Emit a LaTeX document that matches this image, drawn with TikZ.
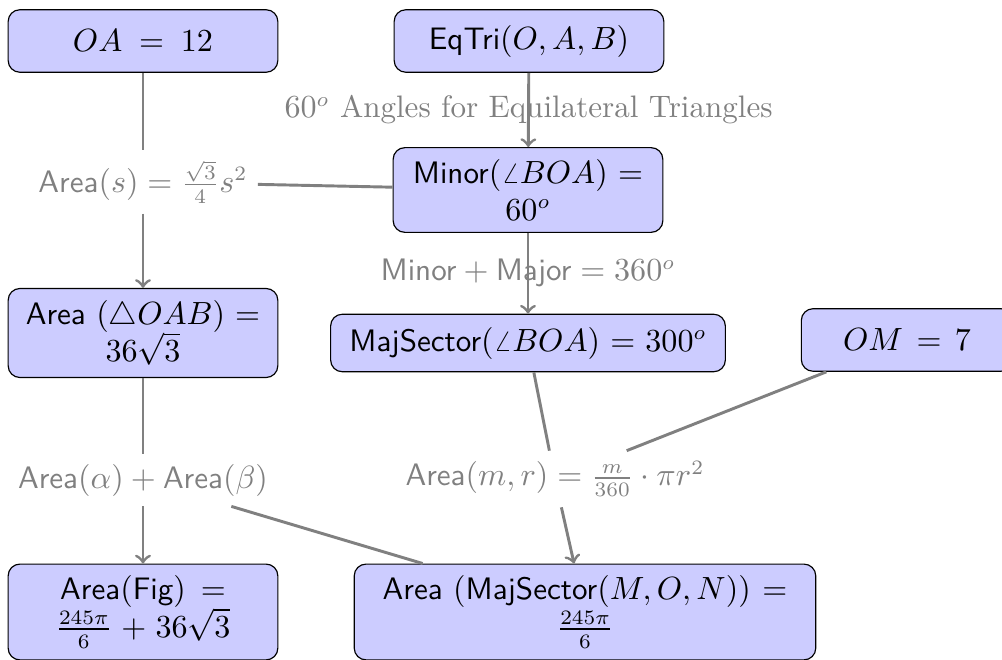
\documentclass[tikz,border=0pt]{standalone}
\usepackage{amsmath}
\usepackage[dvipsnames]{xcolor}

\tikzset{
  box/.style={draw, fill=blue!20, rounded corners, align=center, text width=3cm,
    inner ysep=4pt, font=\fontsize{10.6}{12.7}\selectfont},
  lbl/.style={text=gray, font=\fontsize{10.6}{12.7}\selectfont},
  link/.style={draw=gray, line width=1pt},
}

\begin{document}
\begin{tikzpicture}[x=0.012cm, y=-0.012cm]
  \useasboundingbox (0,0) rectangle (1002,660);
  % boxes
  \node[box, minimum height=0.75cm] (oa) at (143,41) {$OA = 12$};
  \node[box, minimum height=0.75cm] (eqtri) at (529,41) {$\textsf{EqTri}(O, A, B)$};
  \node[box] (minor) at (528,190) {$\textsf{Minor}(\angle BOA) =$\\ $60^o$};
  \node[box] (areaoab) at (143,333) {\textsf{Area} $(\triangle OAB) =$\\ $36\sqrt{3}$};
  \node[box, text width=4.5cm, minimum height=0.69cm] (majsec) at (528,343) {$\textsf{MajSector}(\angle BOA) = 300^o$};
  \node[box, text width=2.3cm, minimum height=0.75cm] (om) at (907,340) {$OM = 7$};
  \node[box] (areafig) at (143,612) {$\textsf{Area}(\textsf{Fig}) =$\\ $\frac{245\pi}{6} + 36\sqrt{3}$};
  \node[box, text width=5.3cm] (areamaj) at (585,612) {\textsf{Area} $(\textsf{MajSector}(M, O, N)) =$\\ $\frac{245\pi}{6}$};
  % rules
  \node[lbl] (areas) at (143,182) {$\textsf{Area}(s) = \frac{\sqrt{3}}{4}s^2$};
  \node[lbl] (sumrule) at (143,480) {$\textsf{Area}(\alpha) + \textsf{Area}(\beta)$};
  \node[lbl] (sectrule) at (555,479) {$\textsf{Area}(m, r) = \frac{m}{360} \cdot \pi r^2$};
  % links
  \draw[link] (oa) -- (areas);
  \draw[link] (minor) -- (areas);
  \draw[link, ->] (areas) -- (areaoab);
  \draw[link, ->] (eqtri) -- node[lbl] {$60^o$ Angles for Equilateral Triangles} (minor);
  \draw[link, ->] (minor) -- node[lbl] {$\textsf{Minor} + \textsf{Major} = 360^o$} (majsec);
  \draw[link] (areaoab) -- (sumrule);
  \draw[link] (areamaj) -- (sumrule);
  \draw[link, ->] (sumrule) -- (areafig);
  \draw[link] (majsec) -- (sectrule);
  \draw[link] (om) -- (sectrule);
  \draw[link, ->] (sectrule) -- (areamaj);
\end{tikzpicture}
\end{document}
